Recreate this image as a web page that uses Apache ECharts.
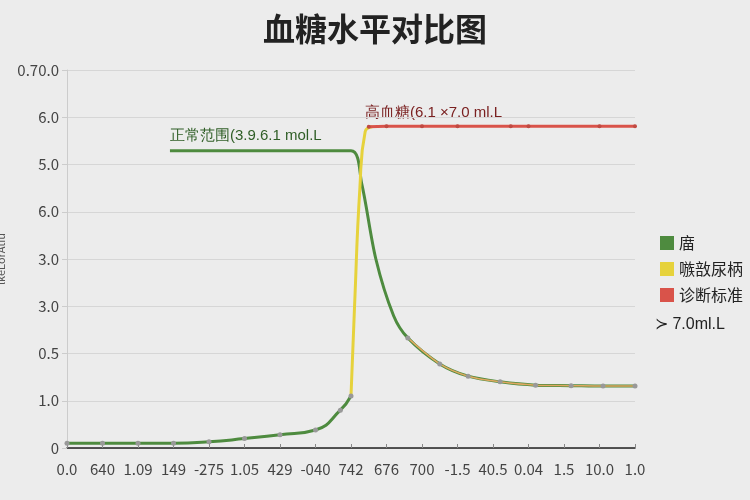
<!DOCTYPE html>
<html>
<head>
<meta charset="utf-8">
<script src="https://cdn.jsdelivr.net/npm/echarts@6/dist/echarts.min.js"></script>
<style>html,body{margin:0;background:#ececec}#main{width:750px;height:500px}</style>
</head>
<body>
<div id="main"></div>
<script>
// tick labels as printed (garbled in the source)
const xLabels = ["0.0", "640", "1.09", "149", "-275", "1.05", "429", "-040", "742", "676", "700", "-1.5", "40.5", "0.04", "1.5", "10.0", "1.0"];
const yLabels = ["0", "1.0", "0.5", "3.0", "3.0", "6.0", "5.0", "6.0", "0.70.0"];

// [x index, value]
const lowCurve = [[0, 0.1], [1, 0.1], [2, 0.1], [3, 0.1], [4, 0.13], [5, 0.2], [6, 0.28], [7, 0.38], [7.7, 0.8], [8, 1.1]];
const normalHigh = [[2.9, 6.29], [8.0, 6.29], [8.3, 5.6], [8.7, 4.0], [9.2, 2.8], [9.6, 2.33], [10.5, 1.78], [11.3, 1.52], [12.2, 1.4], [13.2, 1.33], [14.2, 1.32], [15.1, 1.31], [16, 1.31]];
const diabetesRise = [[8, 1.1], [8.1, 3.0], [8.25, 5.5], [8.4, 6.7], [8.6, 6.8]];
const highPlateau = [[8.5, 6.8], [9, 6.81], [10, 6.81], [11, 6.81], [12.5, 6.81], [13, 6.81], [15, 6.81], [16, 6.81]];
const tailOverlay = [[9.6, 2.33], [10.5, 1.78], [11.3, 1.52], [12.2, 1.4], [13.2, 1.33], [14.2, 1.32], [15.1, 1.31], [16, 1.31]];

const green = "#4e8b3f", yellow = "#e6d23c", red = "#d9534a", orange = "#e0a860";

var myChart = echarts.init(document.getElementById("main"));
var option = {
  backgroundColor: "#ececec",
  textStyle: { fontFamily: "Noto Sans CJK SC" },
  title: {
    text: "血糖水平对比图", left: "center", top: 8,
    textStyle: { fontSize: 32, fontWeight: "bold", color: "#222" },
  },
  legend: {
    orient: "vertical", right: 2, top: 230, itemGap: 10,
    itemWidth: 14, itemHeight: 14, icon: "rect",
    textStyle: { fontSize: 16, color: "#222" },
    data: [
      { name: "庿", itemStyle: { color: green } },
      { name: "嗾敨尿柄", itemStyle: { color: yellow } },
      { name: "诊断标准", itemStyle: { color: red } },
    ],
  },
  grid: { left: 67, right: 115, top: 70, bottom: 52, outerBoundsMode: "none", containLabel: false },
  xAxis: {
    type: "value", min: 0, max: 16, interval: 1,
    axisLine: { lineStyle: { color: "#222", width: 1.5 } },
    axisTick: { show: true, length: 4, inside: true, lineStyle: { color: "#888" } },
    splitLine: { show: false },
    axisLabel: { fontSize: 15, color: "#444", margin: 14, formatter: (v) => xLabels[v] },
  },
  yAxis: {
    type: "value", min: 0, max: 8, interval: 1,
    name: "Tencell enne\nlkeLorAtiu", nameLocation: "middle", nameGap: 42, nameRotate: 90,
    nameTextStyle: { fontSize: 11, color: "#555" },
    axisLine: { show: true, lineStyle: { color: "#ccc" } },
    splitLine: { lineStyle: { color: "#d6d6d6" } },
    axisLabel: { fontSize: 15, color: "#444", formatter: (v) => yLabels[v] },
  },
  graphic: [
    { type: "text", left: 170, top: 128, style: { text: "正常范围(3.9.6.1 mol.L", fontSize: 15, fill: "#2f5e26" } },
    { type: "text", left: 365, top: 105, style: { text: "高血糖(6.1 ×7.0 ml.L", fontSize: 15, fill: "#7a2020" } },
    { type: "text", left: 655, top: 317, style: { text: "≻ 7.0ml.L", fontSize: 16, fill: "#222" } },
  ],
  series: [
    { name: "庿", type: "line", data: lowCurve, smooth: true, symbol: "circle", symbolSize: 5,
      itemStyle: { color: "#999" }, lineStyle: { color: green, width: 3 } },
    { name: "庿", type: "line", data: normalHigh, smooth: 0.3, showSymbol: false,
      itemStyle: { color: green }, lineStyle: { color: green, width: 3 } },
    { name: "嗾敨尿柄", type: "line", data: diabetesRise, smooth: true, showSymbol: false,
      itemStyle: { color: yellow }, lineStyle: { color: yellow, width: 3 } },
    { name: "诊断标准", type: "line", data: highPlateau, smooth: true, symbol: "circle", symbolSize: 4,
      itemStyle: { color: "#c04a42" }, lineStyle: { color: red, width: 3 } },
    { name: "overlay", type: "line", data: tailOverlay, smooth: 0.3, symbol: "circle", symbolSize: 5,
      itemStyle: { color: "#999" }, lineStyle: { color: orange, width: 1.5 }, silent: true },
  ],
};
option && myChart.setOption(option);
</script>
</body>
</html>
